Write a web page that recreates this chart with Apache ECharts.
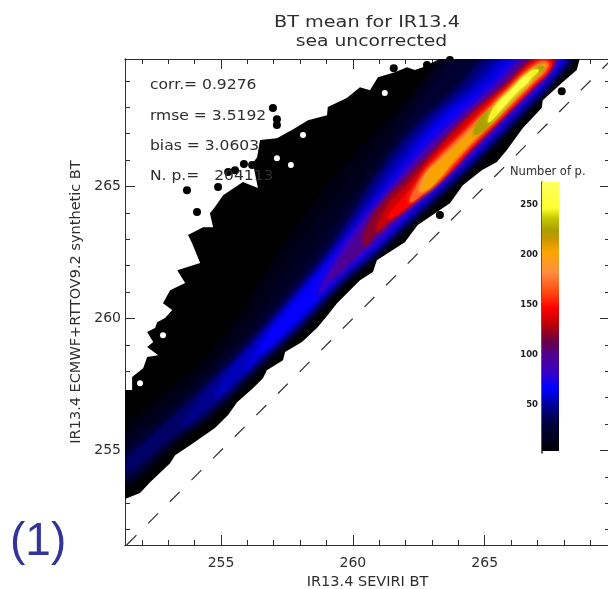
<!DOCTYPE html>
<html><head><meta charset="utf-8">
<style>html,body{margin:0;padding:0;background:#fff}#c{width:608px;height:589px}</style>
<script src="https://cdn.jsdelivr.net/npm/echarts@6/dist/echarts.min.js"></script>
</head><body><div id="c"></div>
<script>
const xMajor=[255,260,265];
const xMinor=[252,253,254,256,257,258,259,261,262,263,264,266,267,268,269];
const yMajor=[255,260,265];
const yMinor=[252,253,254,256,257,258,259,261,262,263,264,266,267,268,269];
const cbLabels=[50,100,150,200,250];
const cbStops=[[7,'#00000c'],[33,'#000040'],[50,'#00009a'],[67,'#0000ff'],[83,'#3a00c4'],[100,'#500090'],[113,'#660048'],[130,'#b80008'],[147,'#ff0000'],[163,'#ff4a10'],[183,'#ff8f40'],[203,'#ffa500'],[217,'#c89600'],[225,'#aaa000'],[237,'#c8c800'],[247,'#ffff30'],[273,'#ffff60']];
const diagonal=[[251.42,251.42],[269.75,269.75]];
const envelope=[[251.36,253.16],[251.93,253.39],[252.31,253.80],[253.07,254.52],[253.26,254.82],[253.83,255.20],[254.77,255.85],[255.27,256.34],[255.61,256.83],[256.21,257.36],[256.59,257.74],[256.74,258.04],[257.35,258.42],[257.43,258.73],[258.07,259.11],[258.64,259.64],[259.05,260.13],[259.40,260.58],[260.27,261.45],[260.76,261.76],[260.91,262.21],[261.97,262.89],[262.46,263.54],[263.30,264.11],[263.68,264.37],[264.17,265.05],[264.89,265.62],[265.46,265.93],[265.84,266.38],[266.44,267.21],[267.16,267.97],[267.20,268.27],[267.92,268.92],[268.49,269.41],[268.60,269.83],[263.30,269.83],[262.65,269.52],[262.35,269.41],[262.05,269.52],[261.59,269.33],[260.95,269.14],[260.65,268.65],[260.27,268.76],[259.77,268.35],[259.05,268.01],[259.02,267.70],[258.30,267.51],[257.69,267.14],[257.12,266.83],[256.48,266.76],[256.37,266.11],[256.21,265.89],[256.40,264.94],[255.83,265.17],[255.08,264.67],[254.77,264.22],[254.58,263.99],[254.70,263.46],[254.32,263.46],[253.75,263.16],[253.90,262.86],[254.21,262.10],[253.34,261.83],[253.64,261.34],[253.07,261.07],[252.80,260.58],[253.15,260.32],[252.88,260.02],[252.58,259.86],[252.50,259.64],[252.20,259.49],[252.43,259.11],[252.20,258.92],[252.62,258.61],[252.20,258.54],[252.05,258.12],[251.63,257.78],[251.63,257.29],[251.36,257.29]];
const count10=[[251.36,253.72],[253.07,255.16],[254.77,256.49],[256.59,258.31],[258.07,259.71],[259.40,261.11],[260.76,262.29],[261.97,263.42],[263.30,264.63],[264.89,266.15],[266.44,267.74],[267.60,269.05],[268.35,270.10],[264.00,270.10],[262.10,268.30],[259.90,266.00],[258.20,263.90],[256.86,262.00],[255.40,259.70],[253.90,258.00],[252.31,256.72],[251.36,255.58]];
const count15=[[251.36,253.76],[253.07,255.20],[254.77,256.53],[256.59,258.35],[258.07,259.75],[259.40,261.15],[260.76,262.33],[261.97,263.46],[263.30,264.67],[264.89,266.19],[266.44,267.78],[267.57,269.08],[268.32,270.10],[264.20,270.10],[262.25,268.25],[260.30,265.80],[258.70,263.80],[257.25,261.90],[255.70,259.60],[254.15,257.85],[252.60,256.55],[251.36,255.30]];
const count20=[[251.36,253.84],[253.07,255.26],[254.77,256.58],[256.59,258.40],[258.07,259.80],[259.40,261.20],[260.76,262.38],[261.97,263.51],[263.30,264.72],[264.89,266.24],[266.44,267.83],[267.54,269.10],[268.28,270.10],[264.40,270.10],[262.40,268.15],[260.60,265.55],[259.10,263.70],[257.60,261.70],[256.00,259.50],[254.40,257.75],[252.90,256.40],[251.36,255.05]];
const count25=[[251.36,253.90],[253.07,255.30],[254.77,256.63],[256.59,258.45],[258.07,259.85],[259.40,261.25],[260.76,262.43],[261.97,263.56],[263.30,264.77],[264.89,266.29],[266.44,267.88],[267.50,269.10],[268.25,270.10],[264.70,270.10],[262.54,268.08],[260.95,265.40],[259.50,263.70],[258.05,261.70],[256.40,259.50],[254.70,257.60],[253.10,256.25],[251.36,254.80]];
const count40=[[251.36,254.10],[253.07,255.45],[254.77,256.78],[256.59,258.58],[258.07,259.98],[259.40,261.38],[260.76,262.56],[261.97,263.69],[263.30,264.90],[264.89,266.42],[266.44,268.00],[267.40,269.05],[268.15,270.10],[265.57,270.10],[263.68,268.46],[262.10,266.95],[260.75,265.20],[259.65,263.45],[258.35,261.55],[256.75,259.65],[255.15,258.05],[253.75,256.80],[252.45,255.60],[251.36,254.55]];
const count47=[[253.50,255.90],[254.77,256.85],[256.59,258.63],[258.07,260.02],[259.40,261.42],[260.76,262.60],[261.97,263.73],[263.30,264.94],[264.89,266.45],[266.44,268.04],[267.38,269.05],[268.08,270.10],[265.85,270.10],[264.05,268.55],[262.45,267.10],[261.05,265.35],[259.95,263.60],[258.70,261.85],[257.20,260.20],[255.75,258.60],[254.45,257.30],[253.90,256.50]];
const count55=[[254.80,257.00],[256.59,258.68],[258.07,260.06],[259.40,261.46],[260.76,262.63],[261.97,263.77],[263.30,264.98],[264.89,266.49],[266.44,268.08],[267.39,269.00],[268.03,270.10],[266.14,270.10],[264.43,268.65],[262.85,267.25],[261.35,265.45],[260.25,263.80],[259.10,262.25],[257.80,260.80],[256.50,259.25],[255.40,258.10]];
const count61=[[255.90,257.95],[256.59,258.73],[258.07,260.10],[259.40,261.50],[260.76,262.67],[261.97,263.81],[263.30,265.02],[264.89,266.54],[266.44,268.13],[267.35,269.03],[267.97,270.10],[266.33,270.10],[264.70,268.70],[263.10,267.30],[261.70,265.65],[260.60,264.20],[259.45,262.65],[258.25,261.20],[257.00,259.70],[256.30,258.80]];
const count68=[[256.50,258.70],[258.07,260.15],[259.40,261.55],[260.76,262.72],[261.97,263.86],[263.30,265.07],[264.89,266.59],[266.44,268.18],[267.31,269.05],[267.92,270.10],[266.52,270.10],[265.00,268.73],[263.30,267.44],[262.05,265.85],[260.95,264.45],[259.80,263.00],[258.65,261.60],[257.55,260.25],[256.80,259.40]];
const count85=[[258.68,260.89],[259.40,261.68],[260.76,262.86],[261.97,263.99],[263.30,265.20],[264.89,266.72],[266.44,268.31],[267.24,269.11],[267.80,270.10],[266.78,270.10],[265.38,268.84],[263.68,267.33],[262.35,266.00],[261.21,264.67],[260.27,263.54],[259.32,262.14]];
const count100=[[259.13,261.45],[260.76,262.97],[261.97,264.11],[263.30,265.32],[264.89,266.83],[266.44,268.42],[267.16,269.18],[267.73,270.10],[266.90,270.10],[265.57,268.84],[264.05,267.44],[262.73,266.19],[261.59,264.86],[260.65,263.73],[259.70,262.40]];
const count120=[[260.46,262.78],[261.21,263.65],[261.97,264.22],[263.30,265.43],[264.89,266.91],[266.44,268.54],[267.65,269.79],[267.45,270.10],[266.97,269.95],[265.76,268.84],[264.43,267.70],[263.11,266.38],[261.97,265.24],[261.21,264.48],[260.57,263.54]];
const count133=[[260.90,263.30],[261.50,263.80],[262.30,264.45],[263.50,265.48],[265.00,267.00],[266.50,268.55],[267.60,269.70],[267.00,269.85],[265.80,268.80],[264.30,267.55],[263.00,266.15],[262.05,265.05],[261.40,264.40]];
const count147=[[261.33,263.80],[261.67,263.92],[262.54,264.60],[263.68,265.54],[264.43,266.38],[265.19,267.14],[265.95,267.89],[266.71,268.65],[267.54,269.56],[267.39,269.79],[266.90,269.71],[265.84,268.73],[265.19,268.16],[264.05,267.02],[262.92,265.89],[262.16,264.86],[261.59,264.22]];
const count170=[[262.16,264.41],[262.73,264.79],[263.68,265.73],[264.43,266.53],[265.19,267.29],[265.95,268.05],[266.71,268.80],[267.43,269.56],[267.27,269.75],[266.97,269.64],[265.95,268.73],[265.27,268.08],[264.24,267.06],[263.11,265.92],[262.54,265.24]];
const count190=[[262.54,264.79],[263.11,265.17],[263.75,265.92],[264.43,266.64],[265.19,267.40],[265.95,268.16],[266.71,268.92],[267.35,269.60],[267.01,269.56],[266.02,268.65],[265.38,268.01],[264.36,267.02],[263.30,266.00],[262.73,265.43]];
const count205=[[262.73,264.86],[263.30,265.32],[263.87,266.07],[264.51,266.76],[265.19,267.51],[265.95,268.27],[266.71,269.03],[267.27,269.56],[267.01,269.45],[266.14,268.65],[265.46,267.89],[264.51,267.06],[263.49,266.07],[262.92,265.54]];
const count225=[[264.60,266.95],[265.19,267.35],[265.95,268.18],[266.71,269.00],[267.25,269.50],[266.95,269.50],[266.30,268.85],[265.50,268.10],[264.85,267.60]];
const count245=[[265.15,267.42],[265.95,268.28],[266.60,268.95],[267.05,269.40],[266.70,269.35],[266.05,268.72],[265.35,268.00]];
const count260=[[265.50,267.85],[266.20,268.55],[266.75,269.10],[266.50,269.10],[265.95,268.55],[265.55,268.10]];
const outlierBlobs=[[257.12,267.55],[257.12,267.33],[256.97,267.97],[253.71,264.86],[254.09,264.03],[254.89,264.98],[267.92,268.61],[263.30,263.92],[262.81,269.60],[261.55,269.48],[263.68,269.79],[255.53,265.62],[255.27,265.55],[255.87,265.85],[256.18,265.81]];
const emptyGaps=[[252.80,259.37],[258.11,266.95],[257.12,266.07],[257.65,265.81],[261.21,268.54],[251.93,257.55]];
const contourLevels=[[10,count10],[15,count15],[20,count20],[25,count25],[40,count40],[47,count47],[55,count55],[61,count61],[68,count68],[85,count85],[100,count100],[120,count120],[133,count133],[147,count147],[170,count170],[190,count190],[205,count205],[225,count225],[245,count245],[260,count260]];
const statLines=['corr.= 0.9276','rmse = 3.5192','bias = 3.0603','N. p.=   204113'];
const titleLines=['BT mean for IR13.4','sea uncorrected'];
const xName='IR13.4 SEVIRI BT';
const yName='IR13.4 ECMWF+RTTOV9.2 synthetic BT';
const cbTitle='Number of p.';
const panelLabel='(1)';

const xRange={min:251.36,max:269.75}, yRange={min:251.42,max:269.83};
const INK='#2e2e2e', FONT='"DejaVu Sans"';
function hex(c){return [1,3,5].map(i=>parseInt(c.substr(i,2),16));}
function levelColor(v){
  for(let i=1;i<cbStops.length;i++){
    if(v<=cbStops[i][0]){
      const a=cbStops[i-1],b=cbStops[i],t=Math.max(0,(v-a[0])/(b[0]-a[0]));
      const A=hex(a[1]),B=hex(b[1]);
      return 'rgb('+A.map((x,k)=>Math.round(x+(B[k]-x)*t)).join(',')+')';
    }
  }
  return cbStops[cbStops.length-1][1];
}
function xAx(pos,vals,len,label){return {type:'value',gridIndex:0,position:pos,min:xRange.min,max:xRange.max,splitLine:{show:false},
  axisLine:{show:true,onZero:false,lineStyle:{color:INK,width:1}},
  axisTick:{show:true,inside:true,length:len,customValues:vals,lineStyle:{color:INK,width:1}},
  axisLabel:label?{show:true,customValues:vals,color:INK,fontFamily:FONT,fontSize:14,margin:11,formatter:v=>String(v)}:{show:false}};}
function yAx(pos,vals,len,label){return {type:'value',gridIndex:0,position:pos,min:yRange.min,max:yRange.max,splitLine:{show:false},
  axisLine:{show:true,onZero:false,lineStyle:{color:INK,width:1}},
  axisTick:{show:true,inside:true,length:len,customValues:vals,lineStyle:{color:INK,width:1}},
  axisLabel:label?{show:true,customValues:vals,color:INK,fontFamily:FONT,fontSize:14,margin:4,rotate:0,formatter:v=>String(v)}:{show:false}};}
const xAxes=[xAx('bottom',xMajor,10,true),xAx('bottom',xMinor,5,false),xAx('top',xMajor,10,false),xAx('top',xMinor,5,false)];
const yAxes=[yAx('left',yMajor,10,true),yAx('left',yMinor,5,false),yAx('right',yMajor,10,false),yAx('right',yMinor,5,false)];
Object.assign(xAxes[0],{name:xName,nameLocation:'middle',nameGap:29,nameTextStyle:{color:INK,fontFamily:FONT,fontSize:14.5}});
Object.assign(yAxes[0],{name:yName,nameLocation:'middle',nameGap:41,nameRotate:90,nameTextStyle:{color:INK,fontFamily:FONT,fontSize:14.5}});
xAxes.push({type:'category',gridIndex:1,show:false,data:['n']});
yAxes.push({type:'value',gridIndex:1,min:2,max:273,position:'left',splitLine:{show:false},
  axisLine:{show:true,lineStyle:{color:'#222',width:1.5}},axisTick:{show:false},
  axisLabel:{customValues:cbLabels,color:'#222',fontFamily:FONT,fontSize:8.5,fontWeight:'bold',margin:4,formatter:v=>String(v)}});
const cbLow=cbStops[0][0]-3, cbHigh=cbStops[cbStops.length-1][0];
const cbGradient=new echarts.graphic.LinearGradient(0,1,0,0,cbStops.map(s=>({offset:(s[0]-cbLow)/(cbHigh-cbLow),color:s[1]})));

function polySeries(items,smooth){
  return {type:'custom',xAxisIndex:0,yAxisIndex:0,coordinateSystem:'cartesian2d',clip:true,silent:true,z:2,
    data:items.map((it,i)=>[i]),encode:{x:-1,y:-1},
    renderItem(p,api){
      const it=items[p.dataIndex], c=levelColor(it[0]);
      return {type:'polygon',shape:{points:it[1].map(q=>api.coord(q)),smooth:smooth},
        style:{fill:it[0]===0?'#000':c,shadowBlur:it[0]===0?0:(it[0]<=25?5:(it[0]<=100?10:5)),shadowColor:c}};
    }};
}
const chart=echarts.init(document.getElementById('c'),null,{renderer:'canvas'});
chart.setOption({
  animation:false,backgroundColor:'#fff',
  grid:[{left:125,top:59,width:485,height:486,outerBoundsMode:'none'},{left:542,top:182,width:17,height:271,outerBoundsMode:'none'}],
  xAxis:xAxes,yAxis:yAxes,
  series:[
    polySeries([[0,envelope]],0),
    {type:'scatter',xAxisIndex:0,yAxisIndex:0,symbolSize:8,itemStyle:{color:'#000',opacity:1},data:outlierBlobs,silent:true,z:2},
    {type:'scatter',xAxisIndex:0,yAxisIndex:0,symbolSize:6,itemStyle:{color:'#fff',opacity:1},data:emptyGaps,silent:true,z:3},
    Object.assign(polySeries(contourLevels,0.5),{z:4}),
    {type:'line',xAxisIndex:0,yAxisIndex:0,data:diagonal,symbol:'none',silent:true,z:1,lineStyle:{color:INK,width:1.2,type:[14,16.6]}},
    {type:'bar',xAxisIndex:4,yAxisIndex:4,stack:'cb',barWidth:'100%',data:[cbLow],itemStyle:{color:'transparent'},silent:true},
    {type:'bar',xAxisIndex:4,yAxisIndex:4,stack:'cb',barWidth:'100%',data:[cbHigh-cbLow],itemStyle:{color:cbGradient},silent:true}
  ],
  graphic:[
    {type:'text',x:367,y:22.5,scaleX:1.2,z:20,style:{text:titleLines[0],fill:INK,font:'16px '+FONT,textAlign:'center',textVerticalAlign:'middle'}},
    {type:'text',x:371.5,y:42,scaleX:1.17,z:20,style:{text:titleLines[1],fill:INK,font:'16px '+FONT,textAlign:'center',textVerticalAlign:'middle'}},
    ...statLines.map((t,i)=>({type:'text',x:150,y:[85,116,146,176][i],scaleX:1.11,z:20,style:{text:t,fill:INK,font:'14px '+FONT,textAlign:'left',textVerticalAlign:'middle'}})),
    {type:'text',left:510,top:166,z:20,style:{text:cbTitle,fill:INK,font:'11.5px '+FONT}},
    {type:'text',left:10,top:519,z:20,style:{text:panelLabel,fill:'#333399',font:'46px "Liberation Sans"'}}
  ]
});
</script></body></html>
